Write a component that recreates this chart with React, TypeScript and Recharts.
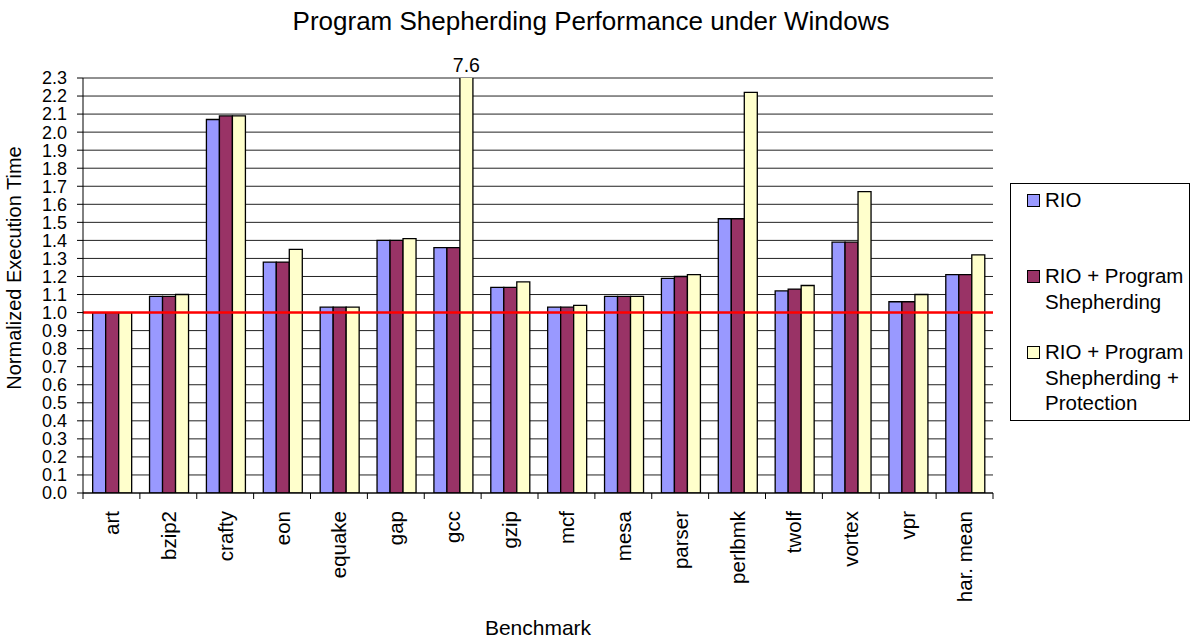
import { BarChart, Bar, XAxis, YAxis, CartesianGrid, ReferenceLine, LabelList } from "recharts";

const categories = ["art", "bzip2", "crafty", "eon", "equake", "gap", "gcc", "gzip", "mcf", "mesa", "parser", "perlbmk", "twolf", "vortex", "vpr", "har. mean"];
const rio = [1.0, 1.09, 2.07, 1.28, 1.03, 1.4, 1.36, 1.14, 1.03, 1.09, 1.19, 1.52, 1.12, 1.39, 1.06, 1.21];
const rioShep = [1.0, 1.09, 2.09, 1.28, 1.03, 1.4, 1.36, 1.14, 1.03, 1.09, 1.2, 1.52, 1.13, 1.39, 1.06, 1.21];
const rioShepProt = [1.0, 1.1, 2.09, 1.35, 1.03, 1.41, 7.6, 1.17, 1.04, 1.09, 1.21, 2.22, 1.15, 1.67, 1.1, 1.32];
const yTicks = [0, 0.1, 0.2, 0.3, 0.4, 0.5, 0.6, 0.7, 0.8, 0.9, 1.0, 1.1, 1.2, 1.3, 1.4, 1.5, 1.6, 1.7, 1.8, 1.9, 2.0, 2.1, 2.2, 2.3];
const seriesNames = [["RIO"], ["RIO + Program", "Shepherding"], ["RIO + Program", "Shepherding +", "Protection"]];
const seriesColors = ["#9999FF", "#993366", "#FFFFCC"];

const data = categories.map((name, i) => ({
	name,
	rio: rio[i],
	shep: rioShep[i],
	prot: rioShepProt[i],
}));

const FONT = "'Liberation Sans', Arial, sans-serif";
const Y_MAX = 2.3;
const TOP = 78;
const PLOT_LEFT = 83;
const PLOT_RIGHT = 993;
const BAND = (PLOT_RIGHT - PLOT_LEFT) / categories.length;

// category labels + boundary tick marks (the Excel style ticks sit between categories)
const XTick = (props: any) => {
	const { x, y, payload, index } = props;
	const axisY = y - 8;
	const half = BAND / 2;
	return (
		<g>
			<line x1={x - half} x2={x - half} y1={axisY} y2={axisY + 6} stroke="#000" />
			{index === categories.length - 1 && (
				<line x1={x + half} x2={x + half} y1={axisY} y2={axisY + 6} stroke="#000" />
			)}
			<text
				x={x}
				y={y + 10}
				transform={`rotate(-90, ${x}, ${y + 10})`}
				textAnchor="end"
				dominantBaseline="central"
				fontSize={20.5}
				fontFamily={FONT}
				fill="#000"
			>
				{payload.value}
			</text>
		</g>
	);
};

const overflowLabel = (props: any) => {
	const { x, width, value } = props;
	if (value <= Y_MAX) return null;
	return (
		<text x={x + width / 2} y={TOP - 6} textAnchor="middle" fontSize={19.5} fontFamily={FONT} fill="#000">
			{value}
		</text>
	);
};

const App = () => {
	return (
		<div style={{ position: "absolute", left: 0, top: 0, width: 1191, height: 640, background: "#fff", fontFamily: FONT }}>
			<div
				style={{
					position: "absolute",
					left: 91,
					width: 1000,
					top: 8,
					textAlign: "center",
					fontSize: 26,
					lineHeight: "26px",
					whiteSpace: "nowrap",
				}}
			>
				Program Shepherding Performance under Windows
			</div>
			<div
				style={{
					position: "absolute",
					left: 14,
					top: 268,
					transform: "translate(-50%, -50%) rotate(-90deg)",
					whiteSpace: "nowrap",
					fontSize: 20,
					lineHeight: "20px",
				}}
			>
				Normalized Execution Time
			</div>
			<div
				style={{
					position: "absolute",
					left: 38,
					width: 1000,
					top: 617,
					textAlign: "center",
					fontSize: 21,
					lineHeight: "21px",
				}}
			>
				Benchmark
			</div>
			<div style={{ position: "absolute", left: 0, top: 0 }}>
				<BarChart
					width={1191}
					height={640}
					data={data}
					margin={{ top: TOP, right: 1191 - PLOT_RIGHT, bottom: 0, left: PLOT_LEFT - 60 }}
					barCategoryGap="17%"
					barGap={0}
				>
					<CartesianGrid vertical={false} stroke="#222" />
					<XAxis
						dataKey="name"
						height={147}
						interval={0}
						tickLine={false}
						tickSize={6}
						tickMargin={2}
						axisLine={{ stroke: "#000" }}
						tick={<XTick />}
					/>
					<YAxis
						width={60}
						domain={[0, Y_MAX]}
						ticks={yTicks}
						interval={0}
						allowDataOverflow
						tickSize={6}
						tickMargin={10}
						tickFormatter={(v: number) => v.toFixed(1)}
						tick={{ fontSize: 18, fill: "#000", fontFamily: FONT }}
						tickLine={{ stroke: "#000" }}
						axisLine={{ stroke: "#000" }}
					/>
					<YAxis
						yAxisId="r"
						orientation="right"
						width={0}
						domain={[0, Y_MAX]}
						tick={false}
						tickLine={false}
						axisLine={{ stroke: "#808080" }}
					/>
					<Bar dataKey="rio" fill={seriesColors[0]} stroke="#000" strokeWidth={1.3} isAnimationActive={false} />
					<Bar dataKey="shep" fill={seriesColors[1]} stroke="#000" strokeWidth={1.3} isAnimationActive={false} />
					<Bar dataKey="prot" fill={seriesColors[2]} stroke="#000" strokeWidth={1.3} isAnimationActive={false}>
						<LabelList dataKey="prot" content={overflowLabel} />
					</Bar>
					<ReferenceLine y={1} stroke="#FF0000" strokeWidth={2.5} />
				</BarChart>
			</div>
			<div
				style={{
					position: "absolute",
					left: 1010,
					top: 183,
					width: 180,
					height: 238,
					border: "1px solid #000",
					boxSizing: "border-box",
				}}
			>
				{seriesNames.map((lines, i) => (
					<div key={i} style={{ position: "absolute", left: 0, top: 3 + i * 76, width: 180 }}>
						<div
							style={{
								position: "absolute",
								left: 16,
								top: 7,
								width: 11,
								height: 11,
								border: "1px solid #000",
								background: seriesColors[i],
							}}
						/>
						<div style={{ position: "absolute", left: 34, top: 0, fontSize: 20.5, lineHeight: "25.7px", whiteSpace: "nowrap" }}>
							{lines.map((l, j) => (
								<div key={j}>{l}</div>
							))}
						</div>
					</div>
				))}
			</div>
		</div>
	);
};

export default App;
